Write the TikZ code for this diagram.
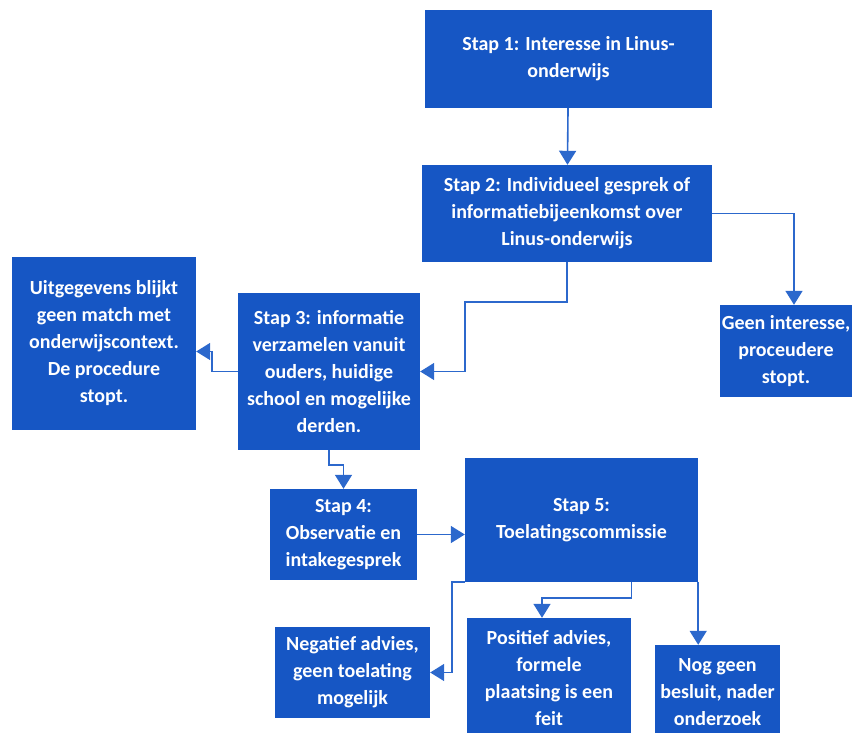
\documentclass[tikz,border=0pt]{standalone}
\usepackage{fontspec}
\setmainfont{Carlito}
\usepackage{xcolor}
\definecolor{boxblue}{RGB}{22,86,196}
\definecolor{lineblue}{RGB}{44,104,204}
\usepackage{tikz}
\usetikzlibrary{positioning}
\usetikzlibrary{arrows.meta}

\begin{document}
\begin{tikzpicture}[x=1pt,y=-1pt]
	\useasboundingbox (0,0) rectangle (865,733);
	\clip (0,0) rectangle (865,733);

	\begin{scope}[every node/.style={fill=boxblue,text=white,align=center,inner sep=0pt,
	              font=\bfseries\fontsize{20}{27}\selectfont}]
	    \node[minimum width=287pt,minimum height=98pt]  (s1)   at (568.5,59)  {Stap 1: Interesse in Linus-\\onderwijs};
	    \node[minimum width=290pt,minimum height=97pt]  (s2)   at (567,213.5) {Stap 2: Individueel gesprek of\\informatiebijeenkomst over\\Linus-onderwijs};
	    \node[minimum width=184pt,minimum height=173pt] (uit)  at (104,343.5) {Uitgegevens blijkt\\geen match met\\onderwijscontext.\\De procedure\\stopt.};
	    \node[minimum width=182pt,minimum height=157pt] (s3)   at (329,371.5) {Stap 3: informatie\\verzamelen vanuit\\ouders, huidige\\school en mogelijke\\derden.};
	    \node[minimum width=132pt,minimum height=92pt]  (geen) at (786,351)   {Geen interesse,\\proceudere\\stopt.};
	    \node[minimum width=147pt,minimum height=91pt]  (s4)   at (343.5,534.5) {Stap 4:\\Observatie en\\intakegesprek};
	    \node[minimum width=233pt,minimum height=124pt] (s5)   at (581.5,520) {Stap 5:\\Toelatingscommissie};
	    \node[minimum width=155pt,minimum height=91pt]  (neg)  at (352.5,672.5) {Negatief advies,\\geen toelating\\mogelijk};
	    \node[minimum width=164pt,minimum height=120pt] (pos)  at (549,678)   {Positief advies,\\formele\\plaatsing is een\\feit};
	    \node[minimum width=125pt,minimum height=95pt]  (nog)  at (717.5,692.5) {Nog geen\\besluit, nader\\onderzoek};
	\end{scope}

	\begin{scope}[>={Triangle[length=14pt,width=17pt]},
	              every path/.style={draw=lineblue,line width=1.6pt}]
	    \draw [->] (s1) -- (s2);
	    \draw [->] (s2.south) -- ++(0,40) -| ([xshift=45pt]s3.east) -- (s3.east);
	    \draw [->] (s2.east) -| ([xshift=8pt]geen.north);
	    \draw [->] (s3.west) -- ++(-26,0) |- ([yshift=-8pt]uit.east);
	    \draw [->] (s3.south) -- ++(0,15) -| (s4.north);
	    \draw [->] (s4.east) -- (s4.east -| s5.west);
	    \draw [->] (s5.south west) -- ++(-13,0) |- (neg.east);
	    \draw [->] ([xshift=50pt]s5.south) -- ++(0,16) -| ([xshift=-7pt]pos.north);
	    \draw [->] (s5.south east) -- (s5.south east |- nog.north);
	\end{scope}
\end{tikzpicture}
\end{document}
